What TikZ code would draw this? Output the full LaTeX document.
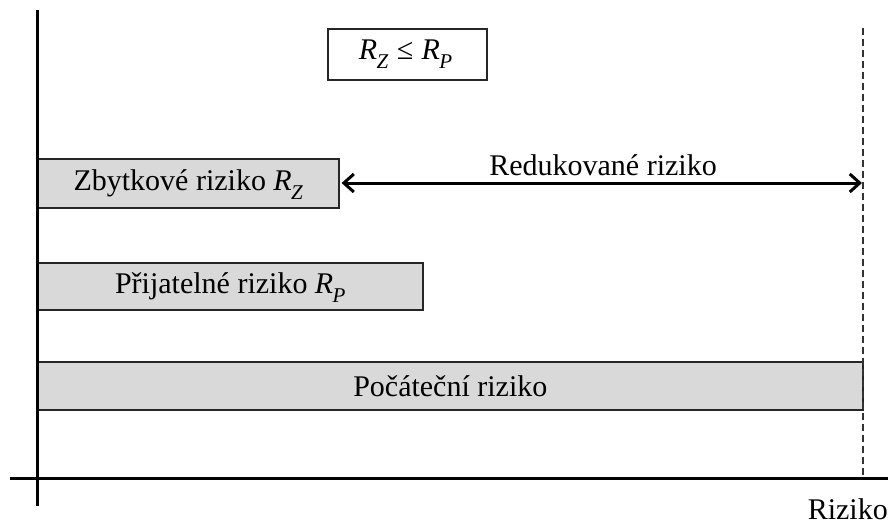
\documentclass[tikz,border=0pt]{standalone}
\usepackage{fontspec}
\setmainfont{Liberation Serif}
\usetikzlibrary{arrows.meta}
\newcommand{\RR}[1]{\textit{R}\kern-0.02em\raisebox{-0.3em}{\fontsize{21}{22}\selectfont\textit{#1}}}
\begin{document}
\begin{tikzpicture}[x=1pt,y=-1pt,
  bar/.style={draw=black!85,line width=1.6pt,fill=black!15,anchor=north west,inner sep=0pt},
  lbl/.style={font=\fontsize{30}{32}\selectfont,inner sep=0pt},
  axis/.style={line width=3pt,black},
  guide/.style={line width=1.2pt,dash pattern=on 7pt off 4pt,black!80}]
\useasboundingbox (0,0) rectangle (888,524);
% boxes
\node[bar,minimum width=301pt,minimum height=49pt] (zb) at (37,158) {};
\node[lbl] (zbt) at ([yshift=-1pt]zb.center) {Zbytkové riziko \RR{Z}};
\node[bar,minimum width=385pt,minimum height=47pt] (pr) at (37,262) {};
\node[lbl] (prt) at ([yshift=-1pt]pr.center) {Přijatelné riziko \RR{P}};
\node[bar,minimum width=825pt,minimum height=48pt] (po) at (37,361) {};
\node[lbl] (pot) at (po.center) {Počáteční riziko};
\node[draw=black!85,line width=1.8pt,minimum width=159pt,minimum height=51pt,inner sep=0pt] (rel) at (407.5,54.5) {};
\node[lbl] (relt) at ([xshift=-2pt]rel.center) {\RR{Z}\kern0.28em≤\kern0.28em\RR{P}};
% axes
\coordinate (ytop) at (37,10);
\coordinate (ybot) at (37,506);
\coordinate (xl) at (10,478);
\coordinate (xr) at (888,478);
\draw[axis] (ytop) -- (ybot);
\draw[axis] (xl) -- (xr);
% dashed guide
\coordinate (gt) at (863,28);
\coordinate (gb) at (863,478);
\draw[guide] (gt) -- (gb);
% reduced risk arrow
\coordinate (ar) at (862,183);
\draw[line width=3pt,{Straight Barb[length=10pt,width=18pt]}-{Straight Barb[length=10pt,width=18pt]}] (zb.east |- ar) ++(2,0) -- (ar);
\node[lbl] (red) at (603,165) {Redukované riziko};
\node[lbl,anchor=base east] (riz) at (888,519) {Riziko};
\end{tikzpicture}
\end{document}
